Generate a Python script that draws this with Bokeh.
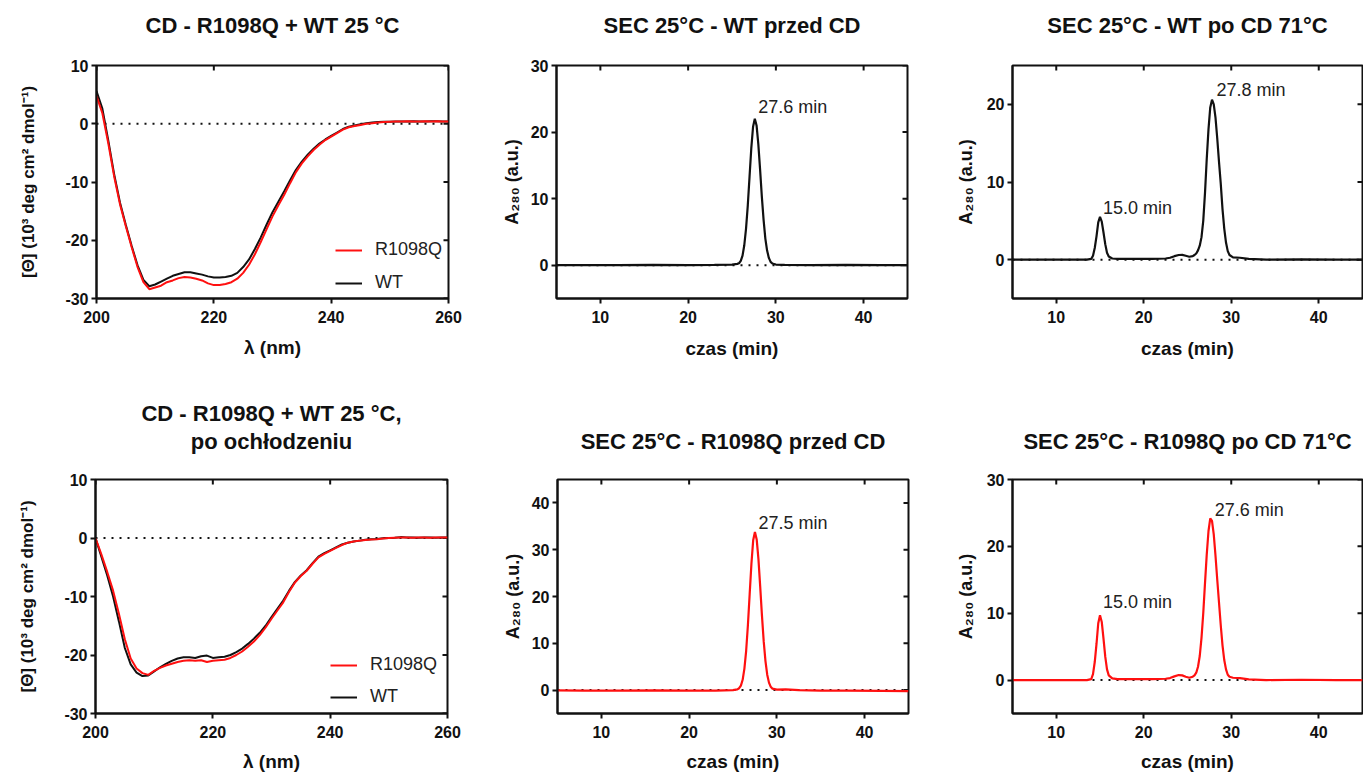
import math
from bokeh.plotting import figure
from bokeh.models import Span, LinearAxis, FixedTicker, Title, Legend, LegendItem, Range1d
from bokeh.layouts import row, column
from bokeh.embed import file_html
from bokeh.resources import INLINE
from bokeh.core.properties import value

FONT = "Liberation Sans"
RED = "#ff1010"
BLACK = "#111111"

# ---------------- data ----------------
wavelength = list(range(200, 261))

cd1_r1098q = [4.8, 1.8, -3.3, -9.0, -13.8, -17.6, -21.2, -24.6, -27.2, -28.4,
              -28.1, -27.8, -27.2, -26.9, -26.5, -26.3, -26.4, -26.6, -26.9, -27.4,
              -27.7, -27.7, -27.5, -27.2, -26.6, -25.6, -24.2, -22.4, -20.3, -18.1,
              -15.9, -14.0, -12.2, -10.2, -8.3, -6.8, -5.6, -4.5, -3.6, -2.8,
              -2.2, -1.6, -1.0, -0.6, -0.4, -0.2, 0.0, 0.1, 0.2, 0.3,
              0.35, 0.4, 0.4, 0.45, 0.4, 0.4, 0.45, 0.4, 0.45, 0.4, 0.4]
cd1_wt = [5.6, 2.6, -2.8, -8.6, -13.5, -17.4, -21.0, -24.3, -26.8, -27.9,
          -27.6, -27.1, -26.6, -26.1, -25.8, -25.5, -25.5, -25.7, -25.9, -26.2,
          -26.4, -26.4, -26.3, -26.1, -25.6, -24.6, -23.3, -21.5, -19.5, -17.3,
          -15.2, -13.4, -11.6, -9.7, -7.9, -6.5, -5.3, -4.3, -3.4, -2.7,
          -2.1, -1.5, -0.9, -0.5, -0.3, -0.1, 0.1, 0.2, 0.3, 0.35,
          0.35, 0.4, 0.4, 0.4, 0.45, 0.4, 0.4, 0.45, 0.45, 0.4, 0.4]

cd2_r1098q = [0.0, -2.8, -5.8, -9.0, -13.0, -17.3, -20.6, -22.3, -23.1, -23.4,
              -22.7, -22.2, -21.8, -21.5, -21.2, -21.0, -20.9, -21.0, -20.9, -21.2,
              -21.0, -20.9, -20.8, -20.5, -20.0, -19.4, -18.6, -17.7, -16.6, -15.3,
              -13.8, -12.4, -11.0, -9.2, -7.6, -6.5, -5.6, -4.4, -3.3, -2.7,
              -2.2, -1.7, -1.2, -0.8, -0.6, -0.45, -0.35, -0.25, -0.2, -0.1,
              0.0, 0.05, 0.1, 0.1, 0.05, 0.1, 0.1, 0.05, 0.1, 0.1, 0.1]
cd2_wt = [0.0, -3.2, -6.4, -10.0, -14.3, -18.8, -21.6, -23.0, -23.6, -23.5,
          -22.8, -22.1, -21.5, -21.0, -20.6, -20.4, -20.4, -20.5, -20.2, -20.1,
          -20.5, -20.4, -20.3, -20.0, -19.5, -18.9, -18.1, -17.2, -16.2, -15.0,
          -13.5, -12.1, -10.7, -9.0, -7.5, -6.4, -5.5, -4.3, -3.2, -2.6,
          -2.1, -1.6, -1.1, -0.8, -0.6, -0.45, -0.3, -0.2, -0.15, -0.05,
          0.0, 0.05, 0.15, 0.1, 0.1, 0.05, 0.1, 0.1, 0.05, 0.1, 0.1]

sec_wt_before_t = [5, 8, 12, 16, 20, 23, 25,
                   25.6, 25.8, 26.0, 26.2, 26.4, 26.6, 26.8, 27.0, 27.2, 27.4, 27.6,
                   27.8, 28.0, 28.2, 28.4, 28.6, 28.8, 29.0, 29.2, 29.4, 29.6,
                   30.0, 31.0, 34, 38, 42, 45]
sec_wt_before_a = [0.0, 0.0, 0.0, 0.05, 0.0, 0.05, 0.1,
                   0.2, 0.3, 0.65, 1.45, 3.0, 5.5, 9.0, 13.3, 17.6, 20.8, 22.0,
                   21.0, 18.2, 14.4, 10.3, 6.8, 4.0, 2.2, 1.1, 0.5, 0.25,
                   0.1, 0.05, 0.0, 0.05, 0.0, 0.0]

sec_after_t = [5, 8, 11, 13.5,
               14.0, 14.2, 14.4, 14.6, 14.8, 15.0, 15.2, 15.4, 15.6, 15.8, 16.0,
               16.4, 17, 19, 21, 22.5,
               23.0, 23.5, 24.0, 24.4, 24.8, 25.2,
               25.6, 25.8, 26.0, 26.2, 26.4, 26.6, 26.8, 27.0, 27.2, 27.4, 27.6,
               27.8, 28.0, 28.2, 28.4, 28.6, 28.8, 29.0, 29.2, 29.4, 29.6, 29.8,
               30.2, 31.0, 32, 34, 38, 42, 45]
sec_wt_after_a = [0.0, 0.0, 0.0, 0.0,
                  0.1, 0.5, 1.5, 3.0, 4.8, 5.5, 4.9, 3.5, 2.0, 0.9, 0.4,
                  0.15, 0.1, 0.1, 0.1, 0.15,
                  0.25, 0.45, 0.6, 0.62, 0.5, 0.38,
                  0.45, 0.6, 0.8, 1.2, 1.8, 2.9, 5.0, 8.6, 13.0, 16.8, 19.6,
                  20.6, 20.0, 18.3, 15.6, 12.6, 9.8, 6.5, 4.0, 2.2, 1.1, 0.6,
                  0.3, 0.25, 0.1, 0.0, 0.05, 0.0, 0.0]

sec_mut_before_t = [5, 8, 12, 16, 20, 23, 25,
                    25.5, 25.7, 25.9, 26.1, 26.3, 26.5, 26.7, 26.9, 27.1, 27.3, 27.5,
                    27.7, 27.9, 28.1, 28.3, 28.5, 28.7, 28.9, 29.1, 29.3, 29.5,
                    30.0, 31.0, 32.5, 35, 38, 42, 45]
sec_mut_before_a = [-0.05, -0.1, -0.1, -0.05, -0.1, -0.1, 0.0,
                    0.15, 0.4, 0.95, 2.2, 4.6, 8.4, 13.9, 20.5, 27.0, 32.0, 33.8,
                    32.2, 28.0, 22.1, 15.9, 10.4, 6.2, 3.3, 1.6, 0.7, 0.3,
                    0.1, 0.15, 0.0, -0.1, -0.1, -0.15, -0.2]

sec_mut_after_a = [0.0, 0.0, 0.0, 0.0,
                   0.15, 0.9, 2.7, 5.4, 8.5, 9.7, 8.7, 6.2, 3.5, 1.6, 0.7,
                   0.25, 0.15, 0.15, 0.15, 0.2,
                   0.3, 0.55, 0.75, 0.7, 0.5, 0.35,
                   0.5, 0.7, 1.1, 2.0, 3.6, 6.3, 10.0, 14.5, 18.8, 22.3, 24.2,
                   23.8, 21.8, 18.6, 15.0, 11.6, 8.2, 5.2, 3.0, 1.6, 0.8, 0.5,
                   0.35, 0.3, 0.1, 0.0, 0.05, 0.0, 0.0]

# peak annotations (text anchor positions in data units)
wt_before_labels = ["27.6 min"]
wt_before_label_x = [28.0]
wt_before_label_y = [23.8]
wt_after_labels = ["15.0 min", "27.8 min"]
wt_after_label_x = [15.35, 28.3]
wt_after_label_y = [6.7, 21.9]
mut_before_labels = ["27.5 min"]
mut_before_label_x = [27.9]
mut_before_label_y = [35.8]
mut_after_labels = ["15.0 min", "27.6 min"]
mut_after_label_x = [15.35, 28.1]
mut_after_label_y = [11.7, 25.5]

cd_xticks = [200, 220, 240, 260]
cd_yticks = [-30, -20, -10, 0, 10]
sec_xticks = [10, 20, 30, 40]

CD_YLABEL = "[\u0398] (10\u00b3 deg cm\u00b2 dmol\u207b\u00b9)"
SEC_YLABEL = "A\u2082\u2088\u2080 (a.u.)"


def make_fig(xr, yr, xticks, yticks, titles, xlabel, ylabel, fw, fh, bl, br, bt, bb,
             ylabel_size, ylabel_standoff, xlabel_standoff, title_standoff):
    p = figure(frame_width=fw, frame_height=fh,
               x_range=Range1d(*xr), y_range=Range1d(*yr),
               output_backend="svg", toolbar_location=None, title_location=None,
               min_border_left=bl, min_border_right=br,
               min_border_top=bt, min_border_bottom=bb,
               x_axis_label=xlabel, y_axis_label=ylabel)
    p.outline_line_color = BLACK
    p.outline_line_width = 2
    p.grid.visible = False
    p.background_fill_color = "white"
    p.border_fill_color = "white"

    for ax, ticks in ((p.xaxis[0], xticks), (p.yaxis[0], yticks)):
        ax.ticker = FixedTicker(ticks=ticks)
        ax.major_label_overrides = {t: str(t) for t in ticks if t < 0}
        ax.axis_line_width = 2
        ax.axis_line_color = BLACK
        ax.major_tick_line_width = 2
        ax.major_tick_line_color = BLACK
        ax.major_tick_out = 5
        ax.major_tick_in = 0
        ax.minor_tick_out = 0
        ax.minor_tick_in = 0
        ax.major_label_text_font = FONT
        ax.major_label_text_font_style = "bold"
        ax.major_label_text_font_size = "16px"
        ax.major_label_text_color = BLACK
        ax.major_label_standoff = 3
        ax.axis_label_text_font = FONT
        ax.axis_label_text_font_style = "bold"
        ax.axis_label_text_color = BLACK
    p.xaxis[0].axis_label_text_font_size = "19px"
    p.xaxis[0].axis_label_standoff = xlabel_standoff
    p.xaxis[0].major_label_standoff = 7
    p.yaxis[0].axis_label_text_font_size = ylabel_size
    p.yaxis[0].axis_label_standoff = ylabel_standoff

    # title: the line nearest the frame is carried by a tick-less top axis
    top = LinearAxis(ticker=FixedTicker(ticks=[]), axis_label=titles[-1],
                     axis_label_text_font=FONT, axis_label_text_font_style="bold",
                     axis_label_text_font_size="22px", axis_label_text_color=BLACK,
                     axis_label_standoff=title_standoff, major_label_standoff=0,
                     major_tick_in=0, major_tick_out=0, minor_tick_in=0, minor_tick_out=0,
                     axis_line_color=None)
    p.add_layout(top, "above")
    for line in reversed(titles[:-1]):
        p.add_layout(Title(text=line, align="center", text_font=FONT, text_font_style="bold",
                           text_font_size="22px", text_color=BLACK, standoff=0), "above")

    # inward ticks on the top and right frame edges
    p.ray(x=xticks, y=[yr[1]] * len(xticks), length=5, length_units="screen",
          angle=-math.pi / 2, line_color=BLACK, line_width=2)
    p.ray(x=[xr[1]] * len(yticks), y=yticks, length=5, length_units="screen",
          angle=math.pi, line_color=BLACK, line_width=2)

    zero = Span(location=0, dimension="width", line_color=BLACK, line_width=2,
                line_dash="2 6", level="underlay")
    p.add_layout(zero)
    return p


def add_legend(p, r_red, r_black, loc, spacing):
    leg = Legend(items=[LegendItem(label="R1098Q", renderers=[r_red]),
                        LegendItem(label="WT", renderers=[r_black])],
                 location=loc, border_line_color=None, background_fill_alpha=0,
                 label_text_font=FONT, label_text_font_size="18px",
                 label_text_color="#222222",
                 glyph_width=27, glyph_height=20, label_height=20,
                 spacing=spacing, padding=0, margin=0, label_standoff=13)
    p.add_layout(leg)


def add_labels(p, xs, ys, texts):
    p.text(x=xs, y=ys, text=texts, text_font=value(FONT), text_font_size="18px",
           text_align="left", text_baseline="alphabetic", text_color="#222222")


# ---- panel 1: CD 25 C ----
p1 = make_fig((200, 260), (-30, 10), cd_xticks, cd_yticks, ["CD - R1098Q + WT 25 \u00b0C"],
              "\u03bb (nm)", CD_YLABEL, 352, 233, 96, 22, 65, 87,
              "17px", 24, 11, 28)
b1 = p1.line(wavelength, cd1_wt, line_color=BLACK, line_width=2)
r1 = p1.line(wavelength, cd1_r1098q, line_color=RED, line_width=2)
add_legend(p1, r1, b1, (239, 5), 12)

# ---- panel 2: SEC WT before ----
p2 = make_fig((5, 45), (-5, 30), sec_xticks, [0, 10, 20, 30], ["SEC 25\u00b0C - WT przed CD"],
              "czas (min)", SEC_YLABEL, 351, 233, 86, 43, 65, 87,
              "18px", 6, 12, 28)
p2.line(sec_wt_before_t, sec_wt_before_a, line_color=BLACK, line_width=2.2)
add_labels(p2, wt_before_label_x, wt_before_label_y, wt_before_labels)

# ---- panel 3: SEC WT after ----
p3 = make_fig((5, 45), (-5, 25), sec_xticks, [0, 10, 20], ["SEC 25\u00b0C - WT po CD 71\u00b0C"],
              "czas (min)", SEC_YLABEL, 350, 233, 62, 1, 65, 87,
              "18px", 8, 12, 28)
p3.line(sec_after_t, sec_wt_after_a, line_color=BLACK, line_width=2.2)
add_labels(p3, wt_after_label_x, wt_after_label_y, wt_after_labels)

# ---- panel 4: CD after cooling ----
p4 = make_fig((200, 260), (-30, 10), cd_xticks, cd_yticks,
              ["CD - R1098Q + WT 25 \u00b0C,", "po och\u0142odzeniu"],
              "\u03bb (nm)", CD_YLABEL, 352, 234, 95, 23, 94, 59,
              "17px", 24, 10, 26)
b4 = p4.line(wavelength, cd2_wt, line_color=BLACK, line_width=2)
r4 = p4.line(wavelength, cd2_r1098q, line_color=RED, line_width=2)
add_legend(p4, r4, b4, (235, 6), 11)

# ---- panel 5: SEC R1098Q before ----
p5 = make_fig((5, 45), (-5, 45), sec_xticks, [0, 10, 20, 30, 40],
              ["SEC 25\u00b0C - R1098Q przed CD"],
              "czas (min)", SEC_YLABEL, 351, 234, 87, 42, 94, 59,
              "18px", 6, 10, 26)
p5.line(sec_mut_before_t, sec_mut_before_a, line_color=RED, line_width=2.2)
add_labels(p5, mut_before_label_x, mut_before_label_y, mut_before_labels)

# ---- panel 6: SEC R1098Q after ----
p6 = make_fig((5, 45), (-5, 30), sec_xticks, [0, 10, 20, 30],
              ["SEC 25\u00b0C - R1098Q po CD 71\u00b0C"],
              "czas (min)", SEC_YLABEL, 350, 234, 62, 1, 94, 59,
              "18px", 8, 10, 26)
p6.line(sec_after_t, sec_mut_after_a, line_color=RED, line_width=2.2)
add_labels(p6, mut_after_label_x, mut_after_label_y, mut_after_labels)

layout = column(row(p1, p2, p3), row(p4, p5, p6))
open("out.html", "w").write(file_html(layout, INLINE))
